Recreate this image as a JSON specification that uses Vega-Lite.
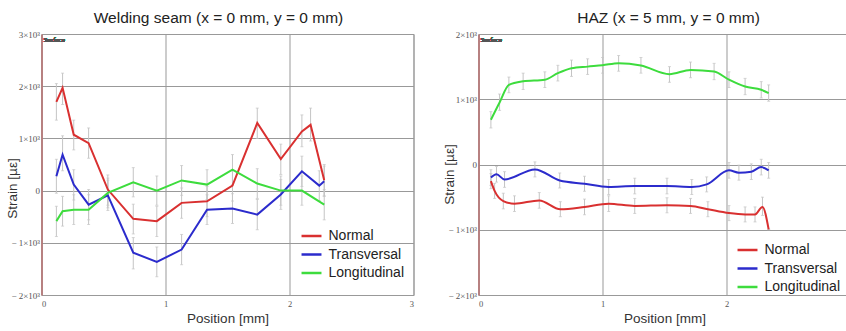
{
  "$schema": "https://vega.github.io/schema/vega-lite/v6.json",
  "padding": {"left": 4.5, "top": 10, "right": 0, "bottom": 0},
  "background": "white",
  "spacing": 27,
  "config": {
    "view": {"stroke": "#999", "strokeWidth": 1},
    "font": "Liberation Sans",
    "title": {"fontSize": 15.5, "fontWeight": "normal", "color": "#222", "offset": 4},
    "axis": {
      "grid": true, "gridColor": "#999", "gridWidth": 1, "gridOpacity": 1,
      "ticks": false, "domain": false,
      "labelFont": "Liberation Serif", "labelFontSize": 9, "labelColor": "#555",
      "titleFont": "Liberation Sans", "titleFontSize": 13.5, "titleFontWeight": "normal", "titleColor": "#333"
    },
    "legend": {
      "orient": "none", "title": null, "symbolType": "M-1.33,0L1.33,0", "symbolSize": 225,
      "symbolStrokeWidth": 2.5, "labelFontSize": 14, "labelColor": "#222",
      "labelFont": "Liberation Sans", "rowPadding": 2.5, "labelOffset": 8
    }
  },
  "datasets": {
    "seam": [
      {"x": 0.12, "strain": 1700, "lo": 1350, "hi": 2050, "dir": "Normal"},
      {"x": 0.17, "strain": 1970, "lo": 1650, "hi": 2250, "dir": "Normal"},
      {"x": 0.26, "strain": 1070, "lo": 780, "hi": 1350, "dir": "Normal"},
      {"x": 0.38, "strain": 910, "lo": 620, "hi": 1200, "dir": "Normal"},
      {"x": 0.535, "strain": 20, "lo": -280, "hi": 300, "dir": "Normal"},
      {"x": 0.74, "strain": -540, "lo": -830, "hi": -260, "dir": "Normal"},
      {"x": 0.93, "strain": -585, "lo": -880, "hi": -300, "dir": "Normal"},
      {"x": 1.13, "strain": -235, "lo": -530, "hi": 50, "dir": "Normal"},
      {"x": 1.335, "strain": -205, "lo": -500, "hi": 80, "dir": "Normal"},
      {"x": 1.54, "strain": 95, "lo": -200, "hi": 380, "dir": "Normal"},
      {"x": 1.74, "strain": 1295, "lo": 1000, "hi": 1580, "dir": "Normal"},
      {"x": 1.93, "strain": 605, "lo": 310, "hi": 890, "dir": "Normal"},
      {"x": 2.1, "strain": 1135, "lo": 840, "hi": 1450, "dir": "Normal"},
      {"x": 2.17, "strain": 1260, "lo": 950, "hi": 1580, "dir": "Normal"},
      {"x": 2.28, "strain": 200, "lo": -100, "hi": 500, "dir": "Normal"},
      {"x": 0.12, "strain": 275, "lo": -50, "hi": 600, "dir": "Transversal"},
      {"x": 0.17, "strain": 690, "lo": 380, "hi": 1050, "dir": "Transversal"},
      {"x": 0.26, "strain": 115, "lo": -180, "hi": 400, "dir": "Transversal"},
      {"x": 0.38, "strain": -270, "lo": -560, "hi": 20, "dir": "Transversal"},
      {"x": 0.535, "strain": -90, "lo": -380, "hi": 200, "dir": "Transversal"},
      {"x": 0.74, "strain": -1190, "lo": -1500, "hi": -900, "dir": "Transversal"},
      {"x": 0.93, "strain": -1365, "lo": -1650, "hi": -1080, "dir": "Transversal"},
      {"x": 1.13, "strain": -1130, "lo": -1420, "hi": -840, "dir": "Transversal"},
      {"x": 1.335, "strain": -365, "lo": -650, "hi": -80, "dir": "Transversal"},
      {"x": 1.54, "strain": -345, "lo": -630, "hi": -60, "dir": "Transversal"},
      {"x": 1.74, "strain": -460, "lo": -750, "hi": -170, "dir": "Transversal"},
      {"x": 1.93, "strain": -75, "lo": -360, "hi": 210, "dir": "Transversal"},
      {"x": 2.1, "strain": 370, "lo": 80, "hi": 660, "dir": "Transversal"},
      {"x": 2.24, "strain": 95, "lo": -190, "hi": 380, "dir": "Transversal"},
      {"x": 2.28, "strain": 180, "lo": -110, "hi": 470, "dir": "Transversal"},
      {"x": 0.12, "strain": -585, "lo": -880, "hi": -300, "dir": "Longitudinal"},
      {"x": 0.17, "strain": -395, "lo": -680, "hi": -110, "dir": "Longitudinal"},
      {"x": 0.26, "strain": -365, "lo": -650, "hi": -80, "dir": "Longitudinal"},
      {"x": 0.38, "strain": -365, "lo": -650, "hi": -80, "dir": "Longitudinal"},
      {"x": 0.535, "strain": -45, "lo": -330, "hi": 240, "dir": "Longitudinal"},
      {"x": 0.74, "strain": 160, "lo": -120, "hi": 440, "dir": "Longitudinal"},
      {"x": 0.93, "strain": 0, "lo": -280, "hi": 280, "dir": "Longitudinal"},
      {"x": 1.13, "strain": 195, "lo": -90, "hi": 480, "dir": "Longitudinal"},
      {"x": 1.335, "strain": 115, "lo": -170, "hi": 400, "dir": "Longitudinal"},
      {"x": 1.54, "strain": 400, "lo": 110, "hi": 690, "dir": "Longitudinal"},
      {"x": 1.74, "strain": 135, "lo": -150, "hi": 420, "dir": "Longitudinal"},
      {"x": 1.93, "strain": 0, "lo": -280, "hi": 280, "dir": "Longitudinal"},
      {"x": 2.1, "strain": 0, "lo": -280, "hi": 280, "dir": "Longitudinal"},
      {"x": 2.28, "strain": -270, "lo": -560, "hi": 20, "dir": "Longitudinal"}
    ],
    "haz": [
      {"x": 0.1, "strain": -255, "lo": -370, "hi": -140, "dir": "Normal"},
      {"x": 0.13, "strain": -405, "lo": -520, "hi": -290, "dir": "Normal"},
      {"x": 0.2, "strain": -560, "lo": -680, "hi": -440, "dir": "Normal"},
      {"x": 0.29, "strain": -600, "lo": -720, "hi": -480, "dir": "Normal"},
      {"x": 0.49, "strain": -550, "lo": -670, "hi": -430, "dir": "Normal"},
      {"x": 0.66, "strain": -685, "lo": -800, "hi": -570, "dir": "Normal"},
      {"x": 0.855, "strain": -650, "lo": -770, "hi": -530, "dir": "Normal"},
      {"x": 1.05, "strain": -600, "lo": -720, "hi": -480, "dir": "Normal"},
      {"x": 1.26, "strain": -635, "lo": -750, "hi": -520, "dir": "Normal"},
      {"x": 1.52, "strain": -625, "lo": -740, "hi": -510, "dir": "Normal"},
      {"x": 1.71, "strain": -635, "lo": -750, "hi": -520, "dir": "Normal"},
      {"x": 1.85, "strain": -685, "lo": -800, "hi": -570, "dir": "Normal"},
      {"x": 2.02, "strain": -745, "lo": -860, "hi": -630, "dir": "Normal"},
      {"x": 2.15, "strain": -765, "lo": -880, "hi": -650, "dir": "Normal"},
      {"x": 2.23, "strain": -765, "lo": -880, "hi": -650, "dir": "Normal"},
      {"x": 2.29, "strain": -650, "lo": -780, "hi": -500, "dir": "Normal"},
      {"x": 2.34, "strain": -995, "lo": -1000, "hi": -990, "dir": "Normal"},
      {"x": 0.1, "strain": -200, "lo": -320, "hi": -80, "dir": "Transversal"},
      {"x": 0.145, "strain": -150, "lo": -270, "hi": -30, "dir": "Transversal"},
      {"x": 0.21, "strain": -230, "lo": -350, "hi": -110, "dir": "Transversal"},
      {"x": 0.455, "strain": -75, "lo": -190, "hi": 40, "dir": "Transversal"},
      {"x": 0.655, "strain": -245, "lo": -360, "hi": -130, "dir": "Transversal"},
      {"x": 0.855, "strain": -295, "lo": -410, "hi": -180, "dir": "Transversal"},
      {"x": 1.05, "strain": -345, "lo": -460, "hi": -230, "dir": "Transversal"},
      {"x": 1.26, "strain": -330, "lo": -450, "hi": -210, "dir": "Transversal"},
      {"x": 1.52, "strain": -330, "lo": -450, "hi": -210, "dir": "Transversal"},
      {"x": 1.72, "strain": -345, "lo": -460, "hi": -230, "dir": "Transversal"},
      {"x": 1.84, "strain": -305, "lo": -420, "hi": -190, "dir": "Transversal"},
      {"x": 2.02, "strain": -90, "lo": -210, "hi": 30, "dir": "Transversal"},
      {"x": 2.1, "strain": -125, "lo": -240, "hi": -10, "dir": "Transversal"},
      {"x": 2.2, "strain": -110, "lo": -230, "hi": 10, "dir": "Transversal"},
      {"x": 2.28, "strain": -40, "lo": -160, "hi": 80, "dir": "Transversal"},
      {"x": 2.34, "strain": -90, "lo": -210, "hi": 30, "dir": "Transversal"},
      {"x": 0.1, "strain": 685, "lo": 560, "hi": 810, "dir": "Longitudinal"},
      {"x": 0.17, "strain": 950, "lo": 830, "hi": 1080, "dir": "Longitudinal"},
      {"x": 0.245, "strain": 1220, "lo": 1100, "hi": 1340, "dir": "Longitudinal"},
      {"x": 0.36, "strain": 1275, "lo": 1150, "hi": 1400, "dir": "Longitudinal"},
      {"x": 0.535, "strain": 1300, "lo": 1180, "hi": 1420, "dir": "Longitudinal"},
      {"x": 0.64, "strain": 1400, "lo": 1280, "hi": 1520, "dir": "Longitudinal"},
      {"x": 0.75, "strain": 1475, "lo": 1350, "hi": 1600, "dir": "Longitudinal"},
      {"x": 0.88, "strain": 1500, "lo": 1380, "hi": 1620, "dir": "Longitudinal"},
      {"x": 1.0, "strain": 1520, "lo": 1400, "hi": 1640, "dir": "Longitudinal"},
      {"x": 1.13, "strain": 1553, "lo": 1430, "hi": 1670, "dir": "Longitudinal"},
      {"x": 1.31, "strain": 1518, "lo": 1400, "hi": 1640, "dir": "Longitudinal"},
      {"x": 1.54, "strain": 1385, "lo": 1260, "hi": 1500, "dir": "Longitudinal"},
      {"x": 1.71, "strain": 1450, "lo": 1330, "hi": 1570, "dir": "Longitudinal"},
      {"x": 1.9, "strain": 1425, "lo": 1300, "hi": 1550, "dir": "Longitudinal"},
      {"x": 2.02, "strain": 1300, "lo": 1180, "hi": 1420, "dir": "Longitudinal"},
      {"x": 2.15, "strain": 1195, "lo": 1070, "hi": 1320, "dir": "Longitudinal"},
      {"x": 2.28, "strain": 1145, "lo": 1020, "hi": 1270, "dir": "Longitudinal"},
      {"x": 2.34, "strain": 1095, "lo": 970, "hi": 1220, "dir": "Longitudinal"}
    ]
  },
  "resolve": {"scale": {"color": "independent"}, "legend": {"color": "independent"}},
  "hconcat": [
    {
      "title": {"text": "Welding seam (x = 0 mm, y = 0 mm)", "dx": -9},
      "width": 372,
      "height": 261,
      "data": {"name": "seam"},
      "layer": [
        {
          "mark": {"type": "errorbar", "ticks": {"size": 3, "color": "#c4c4c4"}, "color": "#c4c4c4"},
          "encoding": {
            "x": {"field": "x", "type": "quantitative", "title": "Position [mm]"},
            "y": {"field": "lo", "type": "quantitative", "title": "Strain [µε]"},
            "y2": {"field": "hi"},
            "detail": {"field": "dir"}
          }
        },
        {
          "mark": {"type": "line", "strokeWidth": 2},
          "encoding": {
            "x": {"field": "x", "type": "quantitative", "title": "Position [mm]",
              "scale": {"domain": [0, 3], "nice": false},
              "axis": {"values": [0, 1, 2, 3], "format": "d", "labelFontSize": 8.5, "labelPadding": 4, "titlePadding": 4}},
            "y": {"field": "strain", "type": "quantitative", "title": "Strain [µε]",
              "scale": {"domain": [-2000, 3000], "nice": false},
              "axis": {"values": [-2000, -1000, 0, 1000, 2000, 3000], "labelPadding": 2, "titleX": -22, "titleY": 154,
                "domain": true, "domainColor": "#b87070", "domainWidth": 1.5,
                "labelExpr": "datum.value === 0 ? '0' : (datum.value < 0 ? '− ' : '') + abs(datum.value / 1000) + '×10³'"}},
            "color": {"field": "dir", "type": "nominal",
              "scale": {"domain": ["Normal", "Transversal", "Longitudinal"], "range": ["#d93030", "#2b2bcc", "#3ddc3d"]},
              "legend": {"legendX": 261, "legendY": 193}},
            "order": {"field": "x", "type": "quantitative"}
          }
        },
        {
          "mark": {"type": "text", "text": "Surface", "fontSize": 7, "font": "Liberation Serif", "align": "left", "baseline": "top", "dx": 2, "dy": 2, "color": "#555"},
          "encoding": {"x": {"datum": 0}, "y": {"datum": 3000}}
        }
      ]
    },
    {
      "title": {"text": "HAZ (x = 5 mm, y = 0 mm)", "dx": 4},
      "width": 372,
      "height": 261,
      "data": {"name": "haz"},
      "layer": [
        {
          "mark": {"type": "errorbar", "ticks": {"size": 3, "color": "#c4c4c4"}, "color": "#c4c4c4"},
          "encoding": {
            "x": {"field": "x", "type": "quantitative", "title": "Position [mm]"},
            "y": {"field": "lo", "type": "quantitative", "title": "Strain [µε]"},
            "y2": {"field": "hi"},
            "detail": {"field": "dir"}
          }
        },
        {
          "mark": {"type": "line", "strokeWidth": 2, "interpolate": "monotone"},
          "encoding": {
            "x": {"field": "x", "type": "quantitative", "title": "Position [mm]",
              "scale": {"domain": [0, 3], "nice": false},
              "axis": {"values": [0, 1, 2], "format": "d", "labelFontSize": 8.5, "labelPadding": 4, "titlePadding": 4}},
            "y": {"field": "strain", "type": "quantitative", "title": "Strain [µε]",
              "scale": {"domain": [-2000, 2000], "nice": false},
              "axis": {"values": [-2000, -1000, 0, 1000, 2000], "labelPadding": 2, "titleX": -22, "titleY": 140,
                "domain": true, "domainColor": "#b87070", "domainWidth": 1.5,
                "labelExpr": "datum.value === 0 ? '0' : (datum.value < 0 ? '− ' : '') + abs(datum.value / 1000) + '×10³'"}},
            "color": {"field": "dir", "type": "nominal",
              "scale": {"domain": ["Normal", "Transversal", "Longitudinal"], "range": ["#d93030", "#2b2bcc", "#3ddc3d"]},
              "legend": {"legendX": 260, "legendY": 207}},
            "order": {"field": "x", "type": "quantitative"}
          }
        },
        {
          "mark": {"type": "text", "text": "Surface", "fontSize": 7, "font": "Liberation Serif", "align": "left", "baseline": "top", "dx": 2, "dy": 2, "color": "#555"},
          "encoding": {"x": {"datum": 0}, "y": {"datum": 2000}}
        }
      ]
    }
  ]
}
